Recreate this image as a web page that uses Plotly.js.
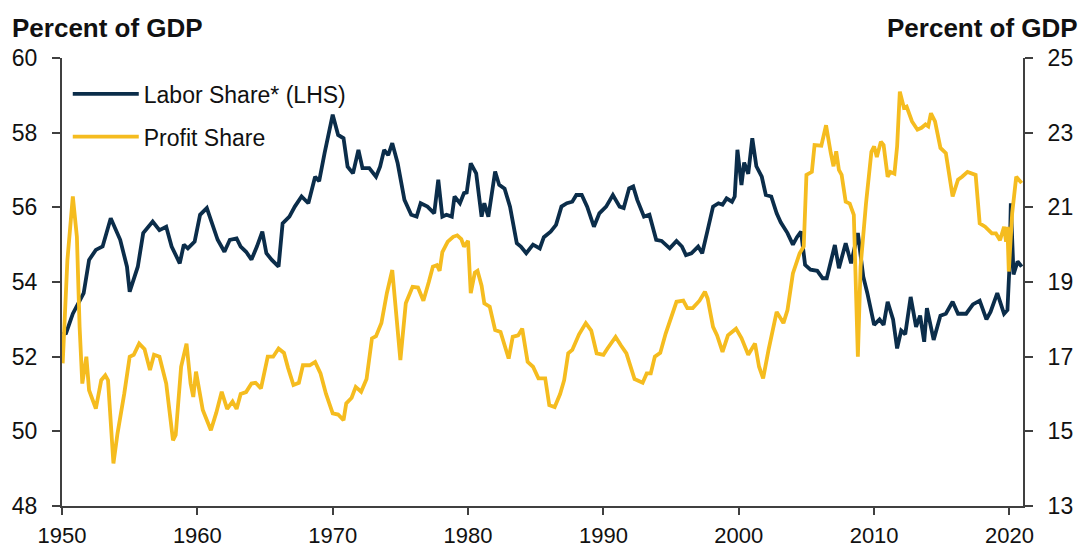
<!DOCTYPE html>
<html>
<head>
<meta charset="utf-8">
<script src="https://cdn.plot.ly/plotly-3.0.1.min.js"></script>
<style>html,body{margin:0;padding:0;background:#fff;}#chart{width:1083px;height:547px;}</style>
</head>
<body>
<div id="chart"></div>
<script>
// Labor share (LHS), percent of GDP
var laborYears = [1950.05,1950.3,1950.8,1951.3,1951.6,1952.0,1952.5,1953.0,1953.6,1954.3,1954.8,1955.0,1955.6,1956.0,1956.7,1957.2,1957.7,1958.1,1958.7,1959.0,1959.3,1959.8,1960.2,1960.7,1961.0,1961.5,1962.0,1962.4,1962.9,1963.2,1963.6,1964.0,1964.4,1964.8,1965.1,1965.5,1966.0,1966.3,1966.8,1967.2,1967.7,1968.2,1968.7,1969.0,1969.4,1970.0,1970.4,1970.8,1971.1,1971.5,1971.9,1972.2,1972.7,1973.2,1973.5,1973.8,1974.1,1974.4,1974.8,1975.3,1975.8,1976.2,1976.5,1977.0,1977.5,1977.8,1978.1,1978.4,1978.8,1979.0,1979.4,1979.7,1979.9,1980.2,1980.6,1981.0,1981.2,1981.5,1982.0,1982.3,1982.7,1983.1,1983.6,1983.9,1984.3,1984.8,1985.3,1985.6,1986.1,1986.5,1986.9,1987.3,1987.7,1988.0,1988.4,1988.8,1989.3,1989.7,1990.2,1990.7,1991.2,1991.5,1991.9,1992.2,1992.5,1993.0,1993.4,1993.9,1994.3,1994.9,1995.4,1995.8,1996.1,1996.5,1997.0,1997.3,1997.7,1998.1,1998.5,1998.8,1999.1,1999.5,1999.7,1999.9,2000.2,2000.4,2000.7,2001.0,2001.3,2001.7,2002.0,2002.4,2002.8,2003.1,2003.6,2004.0,2004.3,2004.6,2004.9,2005.3,2005.8,2006.2,2006.5,2007.1,2007.4,2007.9,2008.3,2008.8,2009.2,2009.5,2010.0,2010.4,2010.7,2011.0,2011.4,2011.7,2012.0,2012.3,2012.7,2013.1,2013.4,2013.7,2013.9,2014.4,2014.9,2015.3,2015.8,2016.2,2016.8,2017.3,2017.8,2018.3,2018.6,2019.1,2019.6,2019.85,2020.0,2020.1,2020.3,2020.6,2020.9];
var laborValues = [52.6,52.63,53.15,53.52,53.7,54.59,54.86,54.95,55.71,55.13,54.41,53.74,54.41,55.31,55.62,55.39,55.48,54.95,54.5,55.0,54.9,55.08,55.8,55.98,55.66,55.13,54.81,55.13,55.17,54.95,54.81,54.6,54.95,55.35,54.77,54.59,54.41,55.57,55.75,56.02,56.29,56.11,56.82,56.7,57.45,58.48,57.94,57.85,57.09,56.91,57.54,57.05,57.05,56.82,57.09,57.54,57.4,57.72,57.18,56.2,55.8,55.75,56.11,56.02,55.84,56.74,55.75,55.8,55.75,56.29,56.11,56.38,56.4,57.18,56.91,55.75,56.11,55.75,56.96,56.6,56.5,56.02,55.04,54.95,54.77,55.0,54.9,55.2,55.35,55.53,56.02,56.11,56.15,56.33,56.33,56.02,55.48,55.84,56.02,56.33,56.02,55.98,56.51,56.56,56.2,55.75,55.8,55.13,55.1,54.9,55.1,54.95,54.72,54.77,54.95,54.77,55.39,56.02,56.11,56.07,56.24,56.15,56.29,57.54,56.6,57.2,56.9,57.85,57.1,56.82,56.33,56.29,55.84,55.6,55.31,55.0,55.2,55.35,54.46,54.33,54.3,54.1,54.1,54.99,54.37,55.04,54.5,55.31,54.14,53.7,52.85,53.0,52.85,53.47,53.0,52.22,52.7,52.6,53.6,52.8,53.1,52.4,53.3,52.45,53.1,53.15,53.47,53.15,53.15,53.4,53.5,53.0,53.2,53.7,53.15,53.25,54.41,56.11,54.2,54.55,54.41];

// Profit share (RHS), percent of GDP
var profitYears = [1950.05,1950.4,1950.8,1951.1,1951.3,1951.5,1951.8,1952.0,1952.5,1952.9,1953.2,1953.4,1953.8,1954.1,1954.6,1955.0,1955.3,1955.7,1956.1,1956.5,1956.8,1957.2,1957.7,1958.2,1958.4,1958.8,1959.2,1959.5,1959.7,1959.9,1960.4,1961.0,1961.4,1961.8,1962.2,1962.6,1962.9,1963.2,1963.6,1964.0,1964.3,1964.7,1965.2,1965.6,1966.0,1966.4,1966.7,1967.1,1967.5,1967.8,1968.3,1968.7,1969.1,1969.5,1970.0,1970.4,1970.8,1971.0,1971.4,1971.7,1972.1,1972.5,1972.9,1973.2,1973.6,1974.0,1974.4,1974.7,1975.0,1975.4,1975.9,1976.3,1976.7,1977.1,1977.4,1977.7,1977.9,1978.1,1978.5,1978.9,1979.2,1979.5,1979.7,1980.0,1980.2,1980.5,1980.7,1981.0,1981.2,1981.6,1982.0,1982.4,1982.7,1983.0,1983.3,1983.7,1984.0,1984.4,1984.8,1985.2,1985.7,1986.0,1986.4,1986.8,1987.1,1987.4,1987.7,1988.2,1988.7,1989.1,1989.5,1990.0,1990.3,1990.9,1991.3,1991.7,1991.95,1992.3,1992.5,1992.9,1993.2,1993.5,1993.8,1994.2,1994.6,1995.0,1995.4,1995.9,1996.2,1996.6,1997.1,1997.5,1997.7,1998.1,1998.4,1998.8,1999.2,1999.8,2000.2,2000.7,2001.2,2001.5,2001.8,2002.2,2002.8,2003.3,2003.6,2004.0,2004.5,2004.8,2005.0,2005.4,2005.6,2006.1,2006.45,2006.8,2007.0,2007.2,2007.4,2007.6,2007.9,2008.2,2008.5,2008.8,2009.0,2009.4,2009.8,2010.0,2010.2,2010.5,2010.7,2011.0,2011.2,2011.5,2011.7,2011.9,2012.2,2012.4,2012.8,2013.2,2013.5,2013.8,2014.0,2014.2,2014.5,2014.9,2015.3,2015.8,2016.2,2016.5,2016.9,2017.5,2017.8,2018.2,2018.7,2019.0,2019.3,2019.6,2019.75,2019.85,2019.95,2020.2,2020.5,2020.9];
var profitValues = [16.82,19.59,21.29,20.21,17.8,16.28,17.0,16.1,15.61,16.37,16.5,16.37,14.14,14.94,16.01,17.0,17.05,17.35,17.2,16.64,17.05,17.0,16.28,14.76,14.9,16.73,17.35,16.28,15.92,16.6,15.57,15.03,15.5,16.06,15.6,15.8,15.6,16.0,16.05,16.28,16.3,16.15,17.0,17.0,17.22,17.1,16.7,16.24,16.3,16.77,16.77,16.86,16.55,16.01,15.48,15.45,15.3,15.75,15.9,16.19,16.06,16.4,17.49,17.55,17.9,18.7,19.32,18.1,16.91,18.43,18.87,18.85,18.5,19.0,19.41,19.45,19.3,19.8,20.08,20.21,20.25,20.15,19.95,20.1,18.7,19.25,19.3,18.9,18.43,18.34,17.71,17.66,17.26,16.95,17.53,17.57,17.75,16.86,16.73,16.42,16.42,15.7,15.65,16.0,16.37,17.09,17.18,17.6,17.9,17.7,17.09,17.05,17.22,17.53,17.3,17.09,16.8,16.4,16.37,16.3,16.55,16.55,17.0,17.1,17.62,18.07,18.47,18.5,18.3,18.3,18.5,18.74,18.56,17.8,17.57,17.13,17.57,17.75,17.5,17.05,17.35,16.73,16.42,17.18,18.2,17.9,18.25,19.23,19.77,19.95,21.87,21.95,22.67,22.65,23.2,22.45,22.1,22.5,22.0,21.87,21.15,21.1,20.8,17.0,19.41,21.1,22.49,22.63,22.35,22.76,22.67,21.82,21.95,21.9,22.63,24.1,23.67,23.7,23.3,23.08,23.13,23.22,23.17,23.52,23.3,22.59,22.45,21.29,21.74,21.82,21.95,21.87,20.57,20.48,20.3,20.3,20.12,20.48,20.08,20.48,19.28,20.84,21.82,21.65];

var xTicks = [1950,1960,1970,1980,1990,2000,2010,2020];
var leftTicks = [48,50,52,54,56,58,60];
var rightTicks = [13,15,17,19,21,23,25];
var seriesNames = ['Labor Share* (LHS)', 'Profit Share'];
var axisTitle = 'Percent of GDP';

var FONT = 'Liberation Sans, Arial, sans-serif';
var AXIS_COLOR = '#404040';

var traces = [
  {x: laborYears, y: laborValues, name: seriesNames[0], type: 'scatter', mode: 'lines',
   legendgroup: 'a', line: {color: '#0B2D4A', width: 3.8}, yaxis: 'y'},
  {x: profitYears, y: profitValues, name: seriesNames[1], type: 'scatter', mode: 'lines',
   legendgroup: 'b', line: {color: '#F5BC1F', width: 3.8}, yaxis: 'y2'}
];

var layout = {
  width: 1083, height: 547,
  margin: {l: 62, r: 60, t: 58, b: 41},
  paper_bgcolor: '#fff', plot_bgcolor: '#fff',
  font: {family: FONT, size: 24, color: '#111'},
  showlegend: true,
  legend: {x: 0.006, y: 0.968, xanchor: 'left', yanchor: 'top', bgcolor: 'rgba(0,0,0,0)',
           font: {family: FONT, size: 23, color: '#111'}, itemwidth: 66, tracegroupgap: 10},
  xaxis: {range: [1950, 2021], tickvals: xTicks, ticktext: xTicks.map(String),
          showgrid: false, zeroline: false, showline: true, linecolor: AXIS_COLOR, linewidth: 2,
          ticks: 'outside', ticklen: 7, tickwidth: 2, tickcolor: AXIS_COLOR,
          tickfont: {family: FONT, size: 22, color: '#111'}, ticklabelstandoff: 2},
  yaxis: {range: [48, 60], tickvals: leftTicks, ticktext: leftTicks.map(String),
          showgrid: false, zeroline: false, showline: true, linecolor: AXIS_COLOR, linewidth: 2,
          ticks: 'outside', ticklen: 8, tickwidth: 2, tickcolor: AXIS_COLOR,
          tickfont: {family: FONT, size: 23, color: '#111'}, ticklabelstandoff: 10},
  yaxis2: {range: [13, 25], tickvals: rightTicks, ticktext: rightTicks.map(String),
           overlaying: 'y', side: 'right', anchor: 'x',
           showgrid: false, zeroline: false, showline: true, linecolor: AXIS_COLOR, linewidth: 2,
           ticks: 'outside', ticklen: 8, tickwidth: 2, tickcolor: AXIS_COLOR,
           tickfont: {family: FONT, size: 23, color: '#111'}, ticklabelstandoff: 10},
  annotations: [
    {text: '<b>' + axisTitle + '</b>', xref: 'paper', yref: 'paper', x: -0.054, y: 1.067,
     xanchor: 'left', yanchor: 'middle', showarrow: false, font: {family: FONT, size: 26, color: '#111'}},
    {text: '<b>' + axisTitle + '</b>', xref: 'paper', yref: 'paper', x: 1.0593, y: 1.067,
     xanchor: 'right', yanchor: 'middle', showarrow: false, font: {family: FONT, size: 26, color: '#111'}}
  ]
};

Plotly.newPlot('chart', traces, layout, {displayModeBar: false, staticPlot: true});
</script>
</body>
</html>
